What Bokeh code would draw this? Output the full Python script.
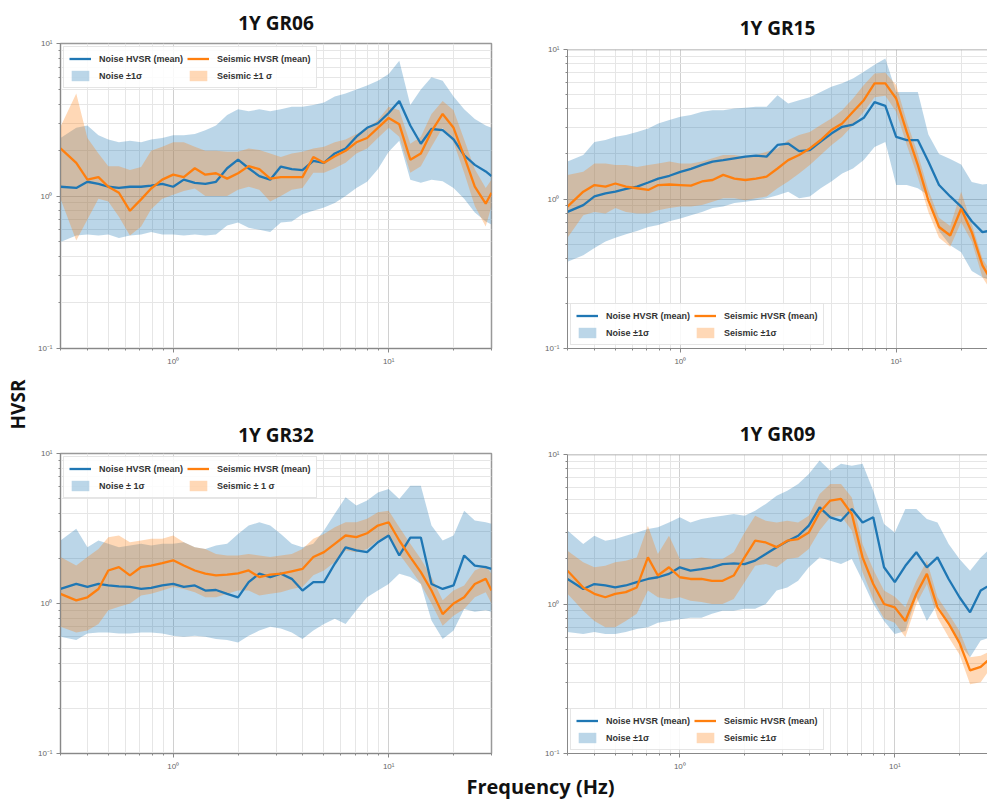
from bokeh.plotting import figure
from bokeh.models import (ColumnDataSource, Range1d, FixedTicker, Legend, LegendItem,
                          Span, Label)
from bokeh.layouts import row, column
from bokeh.embed import file_html
from bokeh.resources import INLINE

# ---------------- data ----------------
FREQ_HZ = [0.30, 0.355, 0.40, 0.45, 0.50, 0.56, 0.63, 0.71, 0.79, 0.89,
           1.0, 1.12, 1.26, 1.41, 1.58, 1.78, 2.0, 2.24, 2.51, 2.82,
           3.16, 3.55, 3.98, 4.47, 5.01, 5.62, 6.31, 7.08, 7.94, 8.91,
           10.0, 11.2, 12.6, 14.1, 15.8, 17.8, 20.0, 22.4, 25.1, 28.2, 30.0]

# 1Y GR06
GR06_NOISE_MEAN = [1.15, 1.13, 1.24, 1.2, 1.15, 1.13, 1.15, 1.15, 1.17, 1.2,
                   1.15, 1.28, 1.22, 1.2, 1.24, 1.52, 1.73, 1.52, 1.35, 1.28,
                   1.56, 1.5, 1.48, 1.7, 1.65, 1.9, 2.05, 2.45, 2.8, 3.0,
                   3.5, 4.2, 2.9, 2.2, 2.75, 2.7, 2.35, 1.85, 1.6, 1.45, 1.35]
GR06_NOISE_HI = [2.4, 2.8, 2.9, 2.5, 2.35, 2.25, 2.3, 2.25, 2.35, 2.4,
                 2.5, 2.5, 2.55, 2.7, 2.9, 3.4, 3.7, 3.6, 3.7, 3.6,
                 3.7, 3.85, 3.85, 3.95, 4.1, 4.5, 4.7, 5.0, 5.3, 5.7,
                 6.3, 7.7, 3.95, 5.0, 6.0, 5.7, 4.5, 3.7, 3.2, 2.9, 2.8]
GR06_NOISE_LO = [0.5, 0.55, 0.56, 0.55, 0.56, 0.53, 0.55, 0.56, 0.58, 0.56,
                 0.56, 0.55, 0.56, 0.55, 0.56, 0.64, 0.67, 0.62, 0.6, 0.58,
                 0.67, 0.68, 0.76, 0.8, 0.84, 0.9, 1.0, 1.13, 1.24, 1.5,
                 1.95, 2.3, 1.28, 1.22, 1.28, 1.25, 1.13, 0.96, 0.78, 0.68, 0.65]
GR06_SEIS_MEAN = [2.05, 1.65, 1.28, 1.33, 1.15, 1.05, 0.8, 0.95, 1.12, 1.28,
                  1.38, 1.33, 1.52, 1.38, 1.41, 1.3, 1.41, 1.57, 1.5, 1.3,
                  1.33, 1.33, 1.33, 1.8, 1.65, 1.82, 1.98, 2.25, 2.4, 2.8,
                  3.25, 2.95, 1.73, 1.9, 2.65, 3.45, 2.8, 1.82, 1.15, 0.89, 1.05]
GR06_SEIS_HI = [2.85, 4.7, 2.4, 1.9, 1.57, 1.57, 1.48, 1.55, 1.98, 2.1,
                2.25, 2.25, 2.1, 1.98, 1.98, 1.95, 1.95, 2.05, 2.0, 1.9,
                1.8, 1.9, 1.95, 2.05, 2.1, 2.25, 2.35, 2.55, 2.75, 3.15,
                3.85, 3.65, 2.2, 2.45, 3.45, 4.2, 3.65, 2.35, 1.5, 1.13, 1.28]
GR06_SEIS_LO = [0.96, 0.51, 0.7, 0.96, 0.92, 0.73, 0.55, 0.63, 0.82, 0.96,
                1.02, 1.08, 1.12, 1.0, 1.0, 1.0, 1.1, 1.15, 1.1, 0.92,
                1.0, 1.1, 1.13, 1.42, 1.42, 1.52, 1.65, 1.9, 2.05, 2.4,
                2.8, 2.45, 1.42, 1.57, 2.1, 2.8, 2.25, 1.42, 0.86, 0.63, 0.86]

# 1Y GR15
GR15_NOISE_MEAN = [0.82, 0.91, 1.04, 1.09, 1.12, 1.17, 1.21, 1.29, 1.37, 1.43,
                   1.52, 1.59, 1.69, 1.78, 1.82, 1.87, 1.92, 1.95, 1.92, 2.3,
                   2.35, 2.09, 2.12, 2.42, 2.74, 3.04, 3.15, 3.49, 4.45, 4.2,
                   2.6, 2.48, 2.48, 1.78, 1.24, 1.04, 0.89, 0.71, 0.6, 0.62, 0.62]
GR15_NOISE_HI = [1.78, 1.97, 2.41, 2.48, 2.61, 2.68, 2.81, 2.96, 3.2, 3.37,
                 3.55, 3.64, 3.83, 3.93, 3.93, 4.03, 4.08, 4.14, 4.14, 4.95,
                 4.35, 4.58, 4.8, 5.2, 5.63, 5.94, 6.4, 7.1, 7.9, 8.7,
                 5.2, 5.2, 5.2, 2.7, 2.0, 1.85, 1.7, 1.3, 1.25, 1.27, 1.27]
GR15_NOISE_LO = [0.38, 0.42, 0.47, 0.52, 0.55, 0.58, 0.61, 0.65, 0.67, 0.71,
                 0.74, 0.78, 0.82, 0.87, 0.89, 0.94, 0.96, 0.98, 1.01, 1.06,
                 1.12, 1.01, 1.04, 1.18, 1.31, 1.48, 1.6, 1.82, 2.23, 2.41,
                 1.24, 1.24, 1.18, 1.06, 0.61, 0.49, 0.44, 0.33, 0.3, 0.28, 0.28]
GR15_SEIS_MEAN = [0.89, 1.12, 1.24, 1.21, 1.27, 1.21, 1.18, 1.15, 1.24, 1.25,
                  1.24, 1.23, 1.31, 1.34, 1.45, 1.37, 1.34, 1.37, 1.41, 1.6,
                  1.82, 1.97, 2.18, 2.48, 2.89, 3.2, 3.83, 4.58, 5.93, 5.93,
                  4.7, 2.8, 1.69, 0.98, 0.65, 0.57, 0.86, 0.6, 0.36, 0.27, 0.25]
GR15_SEIS_HI = [1.45, 1.52, 1.73, 1.73, 1.69, 1.69, 1.64, 1.69, 1.73, 1.78,
                1.73, 1.73, 1.78, 1.87, 1.97, 1.97, 1.92, 1.97, 2.07, 2.18,
                2.48, 2.68, 2.81, 3.12, 3.46, 3.93, 4.7, 5.78, 6.9, 7.0,
                5.78, 3.3, 2.0, 1.15, 0.75, 0.66, 1.12, 0.68, 0.4, 0.3, 0.28]
GR15_SEIS_LO = [0.55, 0.78, 0.82, 0.8, 0.87, 0.82, 0.8, 0.8, 0.84, 0.87,
                0.89, 0.89, 0.91, 0.96, 1.01, 1.01, 0.98, 1.01, 1.04, 1.18,
                1.31, 1.48, 1.69, 1.97, 2.29, 2.61, 3.12, 3.83, 4.8, 4.9,
                3.83, 2.3, 1.4, 0.82, 0.55, 0.48, 0.7, 0.52, 0.3, 0.23, 0.22]

# 1Y GR32
GR32_NOISE_MEAN = [1.25, 1.35, 1.29, 1.35, 1.32, 1.3, 1.29, 1.25, 1.27, 1.32,
                   1.35, 1.29, 1.32, 1.22, 1.23, 1.16, 1.1, 1.39, 1.58, 1.5,
                   1.58, 1.46, 1.22, 1.39, 1.39, 1.84, 2.37, 2.26, 2.2, 2.56,
                   2.84, 2.09, 2.75, 2.75, 1.35, 1.25, 1.32, 2.09, 1.79, 1.75, 1.7]
GR32_NOISE_HI = [2.63, 3.15, 2.37, 2.63, 2.5, 2.37, 2.44, 2.5, 2.44, 2.5,
                 2.5, 2.56, 2.37, 2.31, 2.44, 2.5, 2.91, 3.31, 3.48, 3.31,
                 2.91, 2.5, 2.37, 2.5, 3.07, 3.96, 5.1, 4.5, 4.86, 5.5,
                 5.8, 4.97, 6.1, 6.1, 3.31, 2.63, 2.84, 4.16, 3.58, 3.48, 3.4]
GR32_NOISE_LO = [0.6, 0.57, 0.63, 0.64, 0.64, 0.63, 0.63, 0.64, 0.64, 0.63,
                 0.61, 0.6, 0.61, 0.6, 0.58, 0.57, 0.55, 0.61, 0.66, 0.7,
                 0.68, 0.64, 0.58, 0.66, 0.73, 0.79, 0.73, 0.9, 1.1, 1.22,
                 1.35, 1.58, 1.5, 1.35, 0.77, 0.58, 0.66, 0.92, 0.88, 0.9, 0.88]
GR32_SEIS_MEAN = [1.16, 1.05, 1.1, 1.25, 1.66, 1.75, 1.54, 1.75, 1.79, 1.86,
                  1.94, 1.79, 1.66, 1.58, 1.54, 1.56, 1.59, 1.66, 1.5, 1.56,
                  1.58, 1.64, 1.7, 2.04, 2.2, 2.5, 2.84, 2.77, 2.94, 3.31,
                  3.48, 2.63, 2.04, 1.62, 1.22, 0.85, 1.0, 1.1, 1.35, 1.46, 1.22]
GR32_SEIS_HI = [2.04, 1.79, 2.04, 2.31, 2.77, 2.84, 2.56, 2.63, 2.7, 2.7,
                2.84, 2.56, 2.37, 2.31, 2.14, 2.09, 2.09, 2.14, 2.09, 2.04,
                2.09, 2.14, 2.31, 2.7, 2.91, 3.22, 3.48, 3.48, 3.67, 4.06,
                4.16, 3.22, 2.5, 1.98, 1.5, 1.05, 1.22, 1.32, 1.66, 1.79, 1.58]
GR32_SEIS_LO = [0.7, 0.64, 0.66, 0.73, 0.9, 0.95, 1.0, 1.13, 1.16, 1.22,
                1.29, 1.25, 1.19, 1.1, 1.1, 1.16, 1.22, 1.22, 1.13, 1.16,
                1.19, 1.25, 1.29, 1.54, 1.66, 1.89, 2.26, 2.2, 2.31, 2.63,
                2.84, 2.14, 1.7, 1.35, 1.0, 0.71, 0.83, 0.92, 1.1, 1.19, 1.0]

# 1Y GR09
GR09_NOISE_MEAN = [1.47, 1.26, 1.36, 1.33, 1.29, 1.33, 1.4, 1.47, 1.51, 1.59,
                   1.76, 1.67, 1.71, 1.76, 1.85, 1.87, 1.85, 1.95, 2.16, 2.4,
                   2.63, 2.86, 3.34, 4.43, 3.8, 3.6, 4.32, 3.51, 3.8, 1.76,
                   1.4, 1.8, 2.22, 1.76, 2.05, 1.47, 1.11, 0.88, 1.23, 1.36, 1.36]
GR09_NOISE_HI = [3.1, 2.52, 2.86, 2.65, 2.72, 2.86, 3.01, 3.18, 3.26, 3.51,
                 3.8, 3.51, 3.7, 3.8, 3.9, 4.0, 3.9, 4.21, 4.67, 5.3,
                 5.73, 6.34, 7.41, 9.1, 7.8, 8.66, 8.4, 8.66, 5.73, 3.43,
                 3.01, 4.32, 4.32, 3.7, 3.51, 2.52, 2.0, 1.67, 2.05, 2.4, 2.4]
GR09_NOISE_LO = [0.65, 0.63, 0.65, 0.63, 0.63, 0.65, 0.68, 0.7, 0.75, 0.77,
                 0.79, 0.81, 0.81, 0.86, 0.9, 0.9, 0.93, 0.93, 1.0, 1.23,
                 1.29, 1.43, 1.76, 2.05, 1.95, 1.85, 2.0, 1.43, 1.0, 0.77,
                 0.63, 0.66, 1.11, 0.77, 1.0, 0.74, 0.54, 0.44, 0.57, 0.6, 0.6]
GR09_SEIS_MEAN = [1.67, 1.29, 1.17, 1.11, 1.17, 1.2, 1.29, 2.05, 1.55, 1.76,
                  1.51, 1.47, 1.47, 1.43, 1.43, 1.55, 2.05, 2.65, 2.58, 2.4,
                  2.65, 2.72, 3.01, 4.1, 4.92, 5.04, 4.0, 2.05, 1.36, 1.0,
                  0.95, 0.77, 1.17, 1.59, 0.95, 0.74, 0.55, 0.36, 0.38, 0.44, 0.44]
GR09_SEIS_HI = [2.27, 1.9, 1.76, 1.8, 1.9, 1.95, 2.05, 3.34, 2.16, 2.86,
                2.0, 2.0, 2.05, 2.0, 2.0, 2.22, 3.01, 3.9, 3.6, 3.51,
                3.6, 3.51, 3.9, 5.44, 6.34, 6.34, 5.16, 2.52, 1.7, 1.23,
                1.12, 0.95, 1.43, 1.95, 1.11, 0.86, 0.66, 0.44, 0.45, 0.49, 0.49]
GR09_SEIS_LO = [1.17, 0.9, 0.77, 0.7, 0.7, 0.77, 0.86, 1.23, 1.11, 1.08,
                1.11, 1.05, 1.03, 1.0, 1.0, 1.08, 1.4, 1.8, 1.85, 1.76,
                2.0, 2.05, 2.33, 3.1, 3.8, 3.9, 3.1, 1.63, 1.08, 0.8,
                0.75, 0.6, 1.0, 1.36, 0.81, 0.6, 0.46, 0.29, 0.3, 0.38, 0.38]

X_MAJOR = [1, 10]
X_MINOR = [0.3, 0.4, 0.5, 0.6, 0.7, 0.8, 0.9, 2, 3, 4, 5, 6, 7, 8, 9, 20, 30]
Y_MAJOR = [0.1, 1, 10]
Y_MINOR = [0.2, 0.3, 0.4, 0.5, 0.6, 0.7, 0.8, 0.9, 2, 3, 4, 5, 6, 7, 8, 9]
X_LABELS = {1: "10⁰", 10: "10¹"}
Y_LABELS = {0.1: "10⁻¹", 1: "10⁰", 10: "10¹"}

BLUE = "#1f77b4"
ORANGE = "#ff7f0e"
FONT = "Open Sans"


def panel(title, nm, nlo, nhi, sm, slo, shi, sig_labels, w, h, bl, br, bt, bb,
          x_end, legend_loc, title_offset, title_standoff, open_right):
    src = ColumnDataSource(dict(f=FREQ_HZ, nm=nm, nlo=nlo, nhi=nhi,
                                sm=sm, slo=slo, shi=shi))
    p = figure(width=w, height=h, x_axis_type="log", y_axis_type="log",
               x_range=Range1d(0.3, x_end), y_range=Range1d(0.1, 10),
               output_backend="svg", toolbar_location=None,
               min_border_left=bl, min_border_right=br,
               min_border_top=bt, min_border_bottom=bb)
    p.title.text = title
    p.title.align = "center"
    p.title.offset = title_offset
    p.title.standoff = title_standoff
    p.title.text_font = FONT
    p.title.text_font_size = "19px"
    p.title.text_font_style = "bold"
    p.title.text_color = "#111111"
    p.background_fill_color = "white"
    p.border_fill_color = "white"

    nb = p.varea(x="f", y1="nlo", y2="nhi", source=src,
                 fill_color=BLUE, fill_alpha=0.3)
    sb = p.varea(x="f", y1="slo", y2="shi", source=src,
                 fill_color=ORANGE, fill_alpha=0.3)
    nl = p.line("f", "nm", source=src, line_color=BLUE, line_width=2.3)
    sl = p.line("f", "sm", source=src, line_color=ORANGE, line_width=2.3)

    for ax, tk, mn, lab in ((p.xaxis, X_MAJOR, X_MINOR, X_LABELS),
                            (p.yaxis, Y_MAJOR, Y_MINOR, Y_LABELS)):
        ax.ticker = FixedTicker(ticks=tk, minor_ticks=mn)
        ax.major_label_overrides = lab
        ax.major_label_text_font_size = "8px"
        ax.major_label_text_color = "#666666"
        ax.axis_line_color = "#888888"
        ax.major_tick_line_color = "#888888"
        ax.minor_tick_line_color = "#888888"
        ax.major_tick_out = 4
        ax.major_tick_in = 0
        ax.minor_tick_out = 2
        ax.minor_tick_in = 0
        ax.major_label_standoff = 4
    for g in (p.xgrid, p.ygrid):
        g.grid_line_color = "#d0d0d0"
        g.minor_grid_line_color = "#e6e6e6"

    if open_right:
        p.outline_line_color = None
        p.add_layout(Span(location=10, dimension="width",
                          line_color="#999999", line_width=1.5))
    else:
        p.outline_line_color = "#999999"
        p.outline_line_width = 1.5

    legend = Legend(items=[
        LegendItem(label="Noise HVSR (mean)", renderers=[nl]),
        LegendItem(label=sig_labels[0], renderers=[nb]),
        LegendItem(label="Seismic HVSR (mean)", renderers=[sl]),
        LegendItem(label=sig_labels[1], renderers=[sb]),
    ], location=legend_loc, orientation="vertical", ncols=2)
    legend.label_text_font = "Liberation Sans"
    legend.label_text_font_size = "9px"
    legend.label_text_font_style = "bold"
    legend.label_text_color = "#333333"
    legend.glyph_width = 22
    legend.glyph_height = 13
    legend.label_height = 13
    legend.label_standoff = 8
    legend.spacing = 4
    legend.padding = 5
    legend.margin = 3
    legend.background_fill_alpha = 0.85
    legend.border_line_color = "#cccccc"
    p.add_layout(legend)
    return p


f1 = panel("1Y GR06", GR06_NOISE_MEAN, GR06_NOISE_LO, GR06_NOISE_HI,
           GR06_SEIS_MEAN, GR06_SEIS_LO, GR06_SEIS_HI, ("Noise ±1σ", "Seismic ±1 σ"),
           468, 392, 28, 9, 41, 44, 30, "top_left", -10, 15, False)
f2 = panel("1Y GR15", GR15_NOISE_MEAN, GR15_NOISE_LO, GR15_NOISE_HI,
           GR15_SEIS_MEAN, GR15_SEIS_LO, GR15_SEIS_HI, ("Noise ±1σ", "Seismic ±1σ"),
           487, 392, 67, 0, 49, 44, 26.5, "bottom_left", -8, 18, True)
f3 = panel("1Y GR32", GR32_NOISE_MEAN, GR32_NOISE_LO, GR32_NOISE_HI,
           GR32_SEIS_MEAN, GR32_SEIS_LO, GR32_SEIS_HI, ("Noise ± 1σ", "Seismic ± 1 σ"),
           468, 381, 28, 8, 61, 20, 30, "top_left", -21, 12, False)
f4 = panel("1Y GR09", GR09_NOISE_MEAN, GR09_NOISE_LO, GR09_NOISE_HI,
           GR09_SEIS_MEAN, GR09_SEIS_LO, GR09_SEIS_HI, ("Noise ±1σ", "Seismic ±1σ"),
           487, 381, 65, 0, 62, 20, 27, "bottom_left", 9, 15, True)


def strip(w, h):
    s = figure(width=w, height=h, x_range=Range1d(0, w), y_range=Range1d(0, h),
               output_backend="svg", toolbar_location=None,
               x_axis_location=None, y_axis_location=None, min_border=0)
    s.grid.visible = False
    s.outline_line_color = None
    s.border_fill_color = "white"
    return s


left = strip(32, 801)
left.add_layout(Label(x=17, y=397, text="HVSR", angle=90, angle_units="deg",
                      text_align="center", text_baseline="middle",
                      text_font=FONT, text_font_size="19px",
                      text_font_style="bold", text_color="#111111"))

bottom = strip(955, 28)
bottom.add_layout(Label(x=508, y=15, text="Frequency (Hz)",
                        text_align="center", text_baseline="middle",
                        text_font=FONT, text_font_size="20px",
                        text_font_style="bold", text_color="#111111"))

layout = row(left, column(row(column(f1, f3), column(f2, f4)), bottom))

with open("out.html", "w") as fh:
    fh.write(file_html(layout, INLINE))
